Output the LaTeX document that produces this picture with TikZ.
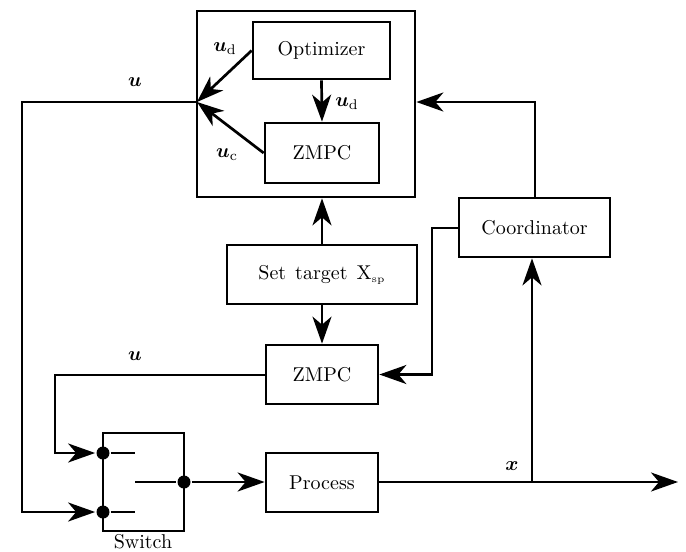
\documentclass[tikz,border=0pt]{standalone}
\usepackage{bm}
\usetikzlibrary{arrows.meta}
\begin{document}
\begin{tikzpicture}[x=0.5pt,y=-0.5pt,
  line width=1.35pt,
  blk/.style={draw,line width=1.35pt,inner sep=0pt,font=\normalsize},
  sig/.style={-{Stealth[length=13.5pt,width=9.5pt,inset=4pt]}},
  dot/.style={circle,fill,inner sep=0pt,minimum size=6.5pt},
  lbl/.style={inner sep=0pt,font=\normalsize}]
\useasboundingbox (0,0) rectangle (686,552);

% controller blocks
\node[blk,minimum width=109pt,minimum height=93pt] (outer) at (306,104) {};
\node[blk,minimum width=68.5pt,minimum height=28.5pt] (opt) at (321.5,50.5) {Optimizer};
\node[blk,minimum width=57pt,minimum height=30pt] (zmpcA) at (322,153) {ZMPC};
\node[blk,minimum width=75.5pt,minimum height=29.5pt] (coord) at (534.5,227.5) {Coordinator};
\node[blk,minimum width=95pt,minimum height=29.5pt] (target) at (322,274.5) {Set\hspace{0.45em}target\hspace{0.45em}$\mathrm{X}_{\scriptscriptstyle\mathrm{sp}}$};
\node[blk,minimum width=56pt,minimum height=29.5pt] (zmpcB) at (322,374.5) {ZMPC};
\node[blk,minimum width=56pt,minimum height=29.5pt] (proc) at (322,482.5) {Process};

% switch
\draw (103,433) rectangle (184,531);
\node[dot] (s1) at (103,453) {};
\node[dot] (s2) at (103,512) {};
\node[dot] (so) at (184,482) {};
\coordinate (s1r) at (135,453);
\coordinate (s2r) at (135,512);
\coordinate (sor) at (135,482);
\draw (s1) -- (s1r);
\draw (s2) -- (s2r);
\draw (sor) -- (so);
\node[lbl] (swl) at (143,542) {Switch};

% junction of the two control signals
\coordinate (J) at (197,102);
\draw[sig] (opt.west) -- (J);
\draw[sig] (zmpcA.west) -- (J);
\draw[sig] (opt.south) -- (zmpcA.north);
\node[lbl] (lud1) at (225,49) {$\bm{u}_{\mathrm{d}}$};
\node[lbl] (lud2) at (347,104) {$\bm{u}_{\mathrm{d}}$};
\node[lbl] (luc) at (227,155) {$\bm{u}_{\mathrm{c}}$};

% feedback from coordinator to the controller
\coordinate (cA) at (535,102);
\draw[sig] (coord.north -| cA) -- (cA) -- (outer.east |- cA);
\draw[sig] (target.north) -- (outer.south -| target.north);
\draw[sig] (target.south) -- (zmpcB.north);
\coordinate (cB) at (432,228);
\draw[sig] (coord.west |- cB) -- (cB) -- (cB |- zmpcB.east) -- (zmpcB.east);

% switch inputs
\coordinate (uA) at (22,102);
\draw[sig] (J) -- (uA) -- (uA |- s2) -- (s2);
\node[lbl] (lu1) at (135,82) {$\bm{u}$};
\coordinate (uB) at (55,375);
\draw[sig] (zmpcB.west |- uB) -- (uB) -- (uB |- s1) -- (s1);
\node[lbl] (lu2) at (135,356) {$\bm{u}$};

% process loop
\draw[sig] (so) -- (proc.west |- so);
\coordinate (br) at (532,482);
\coordinate (xend) at (678,482);
\draw[sig] (proc.east |- br) -- (xend);
\draw[sig] (br) -- (br |- coord.south);
\node[lbl] (lx) at (512,466) {$\bm{x}$};
\end{tikzpicture}
\end{document}
